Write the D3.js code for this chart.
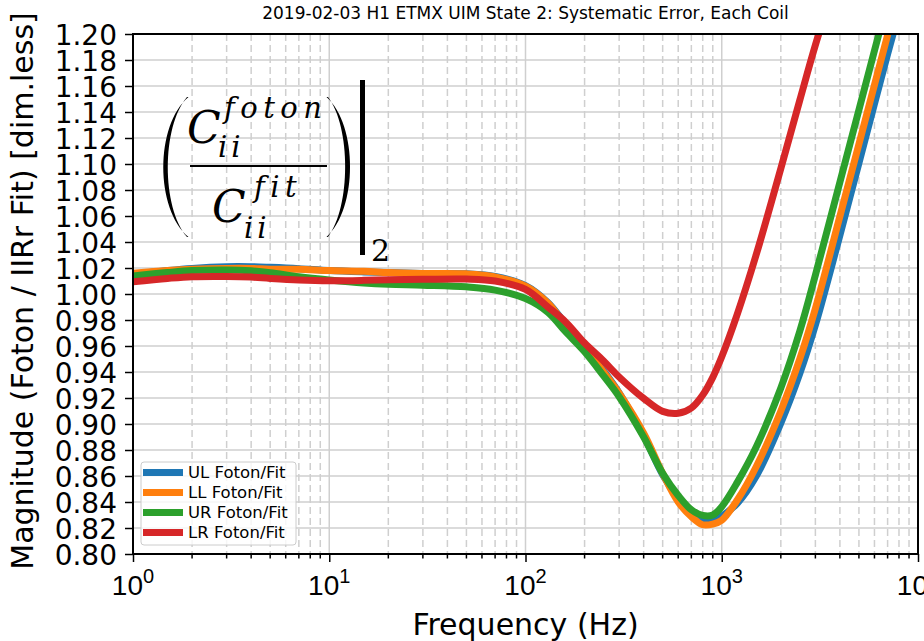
<!DOCTYPE html>
<html>
<head>
<meta charset="utf-8">
<script src="https://cdn.jsdelivr.net/npm/d3@7"></script>
<style>
  body { margin: 0; background: #fff; }
  svg { display: block; font-family: "DejaVu Sans", sans-serif; }
</style>
</head>
<body>
<div id="container"></div>
<script>
/* DATA */
const freqs = [1, 1.5, 2, 3, 4, 5, 7, 10, 15, 20, 30, 50, 70, 100, 130, 160, 200, 250, 300, 400, 500, 600, 700, 800, 900, 1000, 1200, 1500, 2000, 2500, 3000, 4000, 5000, 6000, 7000, 8000, 10000]

const ulFit = [1.015, 1.018, 1.0197, 1.021, 1.021, 1.0205, 1.0195, 1.018, 1.017, 1.0165, 1.0158, 1.0155, 1.0135, 1.0065, 0.9935, 0.977, 0.960, 0.941, 0.924, 0.891, 0.861, 0.843, 0.832, 0.826, 0.825, 0.829, 0.839, 0.860, 0.9007, 0.9389, 0.9761, 1.0452, 1.1007, 1.1463, 1.1846, 1.2164, 1.2716]
const llFit = [1.016, 1.018, 1.019, 1.0197, 1.0197, 1.019, 1.019, 1.018, 1.0175, 1.0165, 1.0158, 1.0155, 1.0132, 1.006, 0.993, 0.976, 0.959, 0.940, 0.9237, 0.893, 0.862, 0.840, 0.8287, 0.8225, 0.823, 0.826, 0.8415, 0.8673, 0.910, 0.9502, 0.9889, 1.0598, 1.1153, 1.1609, 1.1992, 1.231, 1.2848]
const urFit = [1.0138, 1.0165, 1.018, 1.0185, 1.0178, 1.0164, 1.0133, 1.0108, 1.0085, 1.0075, 1.0068, 1.0055, 1.003, 0.9965, 0.986, 0.971, 0.9556, 0.937, 0.921, 0.890, 0.862, 0.845, 0.834, 0.8297, 0.830, 0.8364, 0.8551, 0.8825, 0.9277, 0.9715, 1.0145, 1.0861, 1.1416, 1.1872, 1.2255, 1.2589, 1.3126]
const lrFit = [1.0095, 1.012, 1.0133, 1.0135, 1.013, 1.012, 1.0108, 1.0102, 1.0105, 1.011, 1.0113, 1.0115, 1.0100, 1.0035, 0.990, 0.9785, 0.9623, 0.9485, 0.9362, 0.9197, 0.9097, 0.9082, 0.9123, 0.9223, 0.9359, 0.9517, 0.9845, 1.0305, 1.0965, 1.1492, 1.1915, 1.2521, 1.301, 1.34, 1.38, 1.41, 1.47]

const seriesNames = ["UL Foton/Fit", "LL Foton/Fit", "UR Foton/Fit", "LR Foton/Fit"]
const seriesValues = [ulFit, llFit, urFit, lrFit]
const seriesColors = ["#1f77b4", "#ff7f0e", "#2ca02c", "#d62728"]

const yTicks = d3.range(0, 21).map(i => +(0.80 + i * 0.02).toFixed(2))
const xDecades = [1, 10, 100, 1000, 10000]

/* CONSTANTS AND GLOBALS */
const width = 924
const height = 641
const plot = { left: 133, right: 918, top: 34, bottom: 554 }
const gridColor = "#cfcfcf"

const svg = d3.select("#container")
  .append("svg")
  .attr("width", width)
  .attr("height", height)

/* SCALES */
const xScale = d3.scaleLog()
  .domain([1, 10000])
  .range([plot.left, plot.right])

const yScale = d3.scaleLinear()
  .domain([0.80, 1.20])
  .range([plot.bottom, plot.top])

// minor ticks 2..9 per decade
const xMinor = []
xDecades.slice(0, -1).forEach(d => {
  for (let k = 2; k < 10; k++) xMinor.push(d * k)
})

/* GRID */
const grid = svg.append("g").attr("class", "grid")

grid.selectAll(".minor")
  .data(xMinor)
  .join("line")
    .attr("class", "minor")
    .attr("x1", d => xScale(d))
    .attr("x2", d => xScale(d))
    .attr("y1", plot.top)
    .attr("y2", plot.bottom)
    .attr("stroke", gridColor)
    .attr("stroke-width", 1.5)
    .attr("stroke-dasharray", "7,4")

grid.selectAll(".major")
  .data(xDecades)
  .join("line")
    .attr("class", "major")
    .attr("x1", d => xScale(d))
    .attr("x2", d => xScale(d))
    .attr("y1", plot.top)
    .attr("y2", plot.bottom)
    .attr("stroke", gridColor)
    .attr("stroke-width", 1.5)

grid.selectAll(".hline")
  .data(yTicks)
  .join("line")
    .attr("class", "hline")
    .attr("x1", plot.left)
    .attr("x2", plot.right)
    .attr("y1", d => yScale(d))
    .attr("y2", d => yScale(d))
    .attr("stroke", gridColor)
    .attr("stroke-width", 1.5)

/* LINES */
svg.append("clipPath")
  .attr("id", "plotClip")
  .append("rect")
    .attr("x", plot.left)
    .attr("y", plot.top)
    .attr("width", plot.right - plot.left)
    .attr("height", plot.bottom - plot.top)

const line = d3.line()
  .x(d => xScale(d[0]))
  .y(d => yScale(d[1]))
  .curve(d3.curveCatmullRom.alpha(0.5))

svg.append("g")
  .attr("clip-path", "url(#plotClip)")
  .selectAll("path")
  .data(seriesValues)
  .join("path")
    .attr("d", vals => line(freqs.map((f, i) => [f, vals[i]])))
    .attr("fill", "none")
    .attr("stroke", (d, i) => seriesColors[i])
    .attr("stroke-width", 7)
    .attr("stroke-linejoin", "round")

/* AXES */
const xAxis = d3.axisBottom(xScale)
  .tickValues(xDecades)
  .tickSize(8)
  .tickFormat("")

const xAxisG = svg.append("g")
  .attr("transform", `translate(0, ${plot.bottom})`)
  .call(xAxis)

xAxisG.selectAll(".minorTick")
  .data(xMinor)
  .join("line")
    .attr("class", "minorTick")
    .attr("x1", d => xScale(d))
    .attr("x2", d => xScale(d))
    .attr("y1", 0)
    .attr("y2", 4.5)
    .attr("stroke", "#000")
    .attr("stroke-width", 1.5)

xAxisG.selectAll(".tick line").attr("stroke-width", 1.5)
xAxisG.select(".domain").remove()

// decade labels as 10^n
xAxisG.selectAll(".decLabel")
  .data(xDecades)
  .join("text")
    .attr("class", "decLabel")
    .attr("x", d => xScale(d))
    .attr("y", 41)
    .attr("text-anchor", "middle")
    .attr("font-size", 28)
    .attr("fill", "#000")
    .each(function(d) {
      const t = d3.select(this)
      t.append("tspan").text("10")
      t.append("tspan")
        .attr("dy", -12)
        .attr("font-size", 20)
        .text(Math.round(Math.log10(d)))
    })

const yAxis = d3.axisLeft(yScale)
  .tickValues(yTicks)
  .tickSize(8)
  .tickPadding(8)
  .tickFormat(d3.format(".2f"))

const yAxisG = svg.append("g")
  .attr("transform", `translate(${plot.left}, 0)`)
  .call(yAxis)

yAxisG.select(".domain").remove()
yAxisG.selectAll(".tick line").attr("stroke-width", 1.5)
yAxisG.selectAll(".tick text")
  .attr("font-size", 28)
  .attr("font-family", "DejaVu Sans")
  .attr("dy", "0.36em")
  .attr("fill", "#000")

// frame
svg.append("rect")
  .attr("x", plot.left)
  .attr("y", plot.top)
  .attr("width", plot.right - plot.left)
  .attr("height", plot.bottom - plot.top)
  .attr("fill", "none")
  .attr("stroke", "#000")
  .attr("stroke-width", 2)

/* TEXT */
svg.append("text")
  .attr("x", (plot.left + plot.right) / 2)
  .attr("y", 19)
  .attr("text-anchor", "middle")
  .attr("font-size", 17)
  .text("2019-02-03 H1 ETMX UIM State 2: Systematic Error, Each Coil")

svg.append("text")
  .attr("x", (plot.left + plot.right) / 2)
  .attr("y", 635)
  .attr("text-anchor", "middle")
  .attr("font-size", 30)
  .text("Frequency (Hz)")

svg.append("text")
  .attr("transform", `translate(33, 291) rotate(-90)`)
  .attr("text-anchor", "middle")
  .attr("font-size", 30)
  .text("Magnitude (Foton / IIRr Fit) [dim.less]")

/* MATH ANNOTATION */
const math = svg.append("g")
  .attr("font-family", "DejaVu Serif")
  .attr("fill", "#000")

// big parentheses
math.append("path")
  .attr("d", "M188.5,97 C155,125 155,209 188.5,237 L187,237 C161.5,207 161.5,127 187,97 Z")
math.append("path")
  .attr("d", "M326.5,97 C358,125 358,209 326.5,237 L328,237 C351,207 351,127 328,97 Z")

math.append("rect")
  .attr("x", 190).attr("y", 165)
  .attr("width", 137).attr("height", 2)

const mathText = (x, y, size, txt, spacing) => math.append("text")
  .attr("x", x).attr("y", y)
  .attr("font-size", size)
  .attr("font-style", "italic")
  .attr("letter-spacing", spacing || 0)
  .text(txt)

mathText(187, 143, 44, "C")
mathText(224, 118, 29, "foton", 5.5)
mathText(218, 157, 29, "ii", 4)
mathText(212, 222, 44, "C")
mathText(254, 197, 29, "fit", 5.5)
mathText(244, 238, 29, "ii", 4)

math.append("rect")
  .attr("x", 360).attr("y", 80)
  .attr("width", 5).attr("height", 175)

math.append("text")
  .attr("x", 371).attr("y", 261)
  .attr("font-size", 30)
  .text("2")

/* LEGEND */
const legend = svg.append("g")
  .attr("transform", "translate(141, 462)")

legend.append("rect")
  .attr("width", 155)
  .attr("height", 83)
  .attr("rx", 3)
  .attr("fill", "#fff")
  .attr("fill-opacity", 0.8)
  .attr("stroke", "#cccccc")
  .attr("stroke-width", 1)

const entries = legend.selectAll(".entry")
  .data(seriesNames)
  .join("g")
    .attr("class", "entry")
    .attr("transform", (d, i) => `translate(0, ${10.5 + i * 20})`)

entries.append("line")
  .attr("x1", 2)
  .attr("x2", 42)
  .attr("stroke", (d, i) => seriesColors[i])
  .attr("stroke-width", 7)

entries.append("text")
  .attr("x", 47)
  .attr("dy", "0.36em")
  .attr("font-size", 16.5)
  .text(d => d)
</script>
</body>
</html>
